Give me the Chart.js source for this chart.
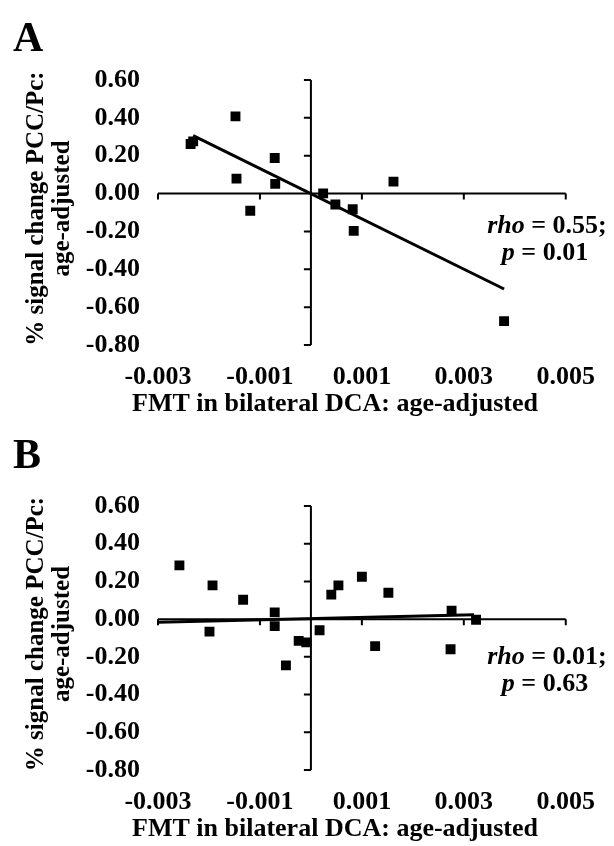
<!DOCTYPE html>
<html>
<head>
<meta charset="utf-8">
<script src="https://cdn.jsdelivr.net/npm/chart.js@4.4.1/dist/chart.umd.min.js"></script>
<style>
  html, body { margin: 0; padding: 0; background: #fff; }
  canvas { display: block; }
</style>
</head>
<body>
<canvas id="chart-a" width="614" height="426"></canvas>
<canvas id="chart-b" width="614" height="420"></canvas>
<script>
const FONT = "'Liberation Serif', 'Times New Roman', serif";

// axis ticks (shared by both panels)
const xTicks = [-0.003, -0.001, 0.001, 0.003, 0.005];
const yTicks = [0.6, 0.4, 0.2, 0, -0.2, -0.4, -0.6, -0.8];

const xTitle = 'FMT in bilateral DCA: age-adjusted';
const yTitle = ['% signal change PCC/Pc:', 'age-adjusted'];

// panel A
const fmtA = [-0.00236, -0.00231, -0.00148, -0.00146, -0.00119, -0.00071, -0.00070, 0.00024, 0.00048, 0.00082, 0.00084, 0.00162, 0.00379];
const pccA = [0.262, 0.276, 0.408, 0.079, -0.091, 0.188, 0.051, 0.001, -0.058, -0.083, -0.197, 0.063, -0.674];
const fitXA = [-0.00231, 0.00379];
const fitYA = [0.306, -0.504];

// panel B
const fmtB = [-0.00258, -0.00193, -0.00199, -0.00133, -0.00071, -0.00071, -0.00049, -0.00024, -0.00009, 0.00017, 0.00040, 0.00054, 0.00100, 0.00126, 0.00152, 0.00276, 0.00274, 0.00324];
const pccB = [0.285, 0.179, -0.066, 0.103, 0.036, -0.037, -0.245, -0.115, -0.123, -0.059, 0.130, 0.179, 0.225, -0.143, 0.140, 0.045, -0.160, -0.003];
const fitXB = [-0.00300, 0.00320];
const fitYB = [-0.017, 0.023];

// axes crossing at zero, drawn from the scales
const crossAxes = {
  id: 'crossAxes',
  beforeDatasetsDraw(chart) {
    const { ctx, scales: { x, y } } = chart;
    const x0 = x.getPixelForValue(0);
    const y0 = y.getPixelForValue(0);
    ctx.save();
    ctx.strokeStyle = '#000';
    ctx.lineWidth = 2;
    ctx.beginPath();
    ctx.moveTo(x0, y.getPixelForValue(yTicks[0]));
    ctx.lineTo(x0, y.getPixelForValue(yTicks[yTicks.length - 1]));
    yTicks.forEach(v => {
      const py = y.getPixelForValue(v);
      ctx.moveTo(x0 - 7, py);
      ctx.lineTo(x0, py);
    });
    ctx.moveTo(x.getPixelForValue(xTicks[0]), y0);
    ctx.lineTo(x.getPixelForValue(xTicks[xTicks.length - 1]), y0);
    xTicks.forEach(v => {
      const px = x.getPixelForValue(v);
      ctx.moveTo(px, y0);
      ctx.lineTo(px, y0 + 6);
    });
    ctx.stroke();
    ctx.restore();
  }
};

function drawMixed(ctx, parts, cx, cy) {
  const fonts = parts.map(p => (p.italic ? 'italic ' : '') + 'bold 26px ' + FONT);
  let total = 0;
  const widths = parts.map((p, i) => { ctx.font = fonts[i]; const w = ctx.measureText(p.t).width; total += w; return w; });
  let x = cx - total / 2;
  parts.forEach((p, i) => {
    ctx.font = fonts[i];
    ctx.fillText(p.t, x, cy);
    x += widths[i];
  });
}

// panel letter, axis titles and the rho / p note
const panelText = {
  id: 'panelText',
  afterDraw(chart, args, opts) {
    const { ctx, chartArea: ca } = chart;
    ctx.save();
    ctx.fillStyle = '#000';
    ctx.textBaseline = 'middle';

    ctx.font = 'bold 42px ' + FONT;
    ctx.textAlign = 'left';
    ctx.fillText(opts.letter, 13, opts.letterY);

    ctx.font = 'bold 25px ' + FONT;
    ctx.textAlign = 'center';
    ctx.save();
    ctx.translate(37, (ca.top + ca.bottom) / 2 - 4);
    ctx.rotate(-Math.PI / 2);
    ctx.fillText(yTitle[0], 0, 0);
    ctx.fillText(yTitle[1], 0, 26);
    ctx.restore();

    ctx.font = 'bold 26px ' + FONT;
    ctx.fillText(xTitle, 335, ca.bottom + 59);

    ctx.textAlign = 'left';
    drawMixed(ctx, [{ t: 'rho', italic: true }, { t: ' = ' + opts.rho + ';' }], 547, opts.rhoY);
    drawMixed(ctx, [{ t: 'p', italic: true }, { t: ' = ' + opts.p }], 545, opts.rhoY + 27);
    ctx.restore();
  }
};

function makePanel(id, xs, ys, fitX, fitY, text, padBottom) {
  const points = xs.map((v, i) => ({ x: v, y: ys[i] }));
  const fit = fitX.map((v, i) => ({ x: v, y: fitY[i] }));
  const tickFont = { family: FONT, size: 26, weight: 'bold', lineHeight: 1 };
  return new Chart(document.getElementById(id), {
    type: 'scatter',
    data: {
      datasets: [
        { data: points, pointStyle: 'rect', pointRadius: 7, pointBorderWidth: 0, backgroundColor: '#000', borderColor: '#000' },
        { type: 'line', data: fit, showLine: true, borderColor: '#000', borderWidth: 3, pointRadius: 0, fill: false }
      ]
    },
    options: {
      responsive: false,
      animation: false,
      layout: { padding: { left: 10, right: 45, top: 80, bottom: padBottom } },
      plugins: { legend: { display: false }, tooltip: { enabled: false }, panelText: text },
      scales: {
        x: {
          type: 'linear', min: xTicks[0], max: xTicks[xTicks.length - 1],
          afterBuildTicks: s => { s.ticks = xTicks.map(v => ({ value: v })); },
          afterFit: s => { s.height = 72; },
          grid: { display: false, drawTicks: false },
          border: { display: false },
          ticks: { padding: 19, color: '#000', font: tickFont, maxRotation: 0, autoSkip: false, callback: v => v.toFixed(3) }
        },
        y: {
          type: 'linear', min: yTicks[yTicks.length - 1], max: yTicks[0],
          afterBuildTicks: s => { s.ticks = yTicks.map(v => ({ value: v })); },
          afterFit: s => { s.width = 148; },
          grid: { display: false, drawTicks: false },
          border: { display: false },
          ticks: { padding: 18, color: '#000', font: tickFont, autoSkip: false, callback: v => v.toFixed(2) }
        }
      }
    },
    plugins: [crossAxes, panelText]
  });
}

makePanel('chart-a', fmtA, pccA, fitXA, fitYA, { letter: 'A', letterY: 40, rho: '0.55', p: '0.01', rhoY: 226 }, 9);
makePanel('chart-b', fmtB, pccB, fitXB, fitYB, { letter: 'B', letterY: 31, rho: '0.01', p: '0.63', rhoY: 231 }, 4);
</script>
</body>
</html>
